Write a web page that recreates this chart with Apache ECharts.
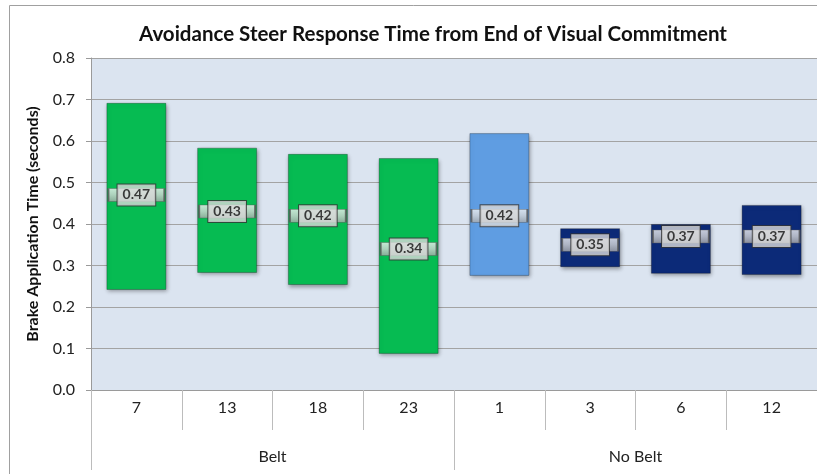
<!DOCTYPE html>
<html>
<head>
<meta charset="utf-8">
<script src="https://cdn.jsdelivr.net/npm/echarts@6/dist/echarts.min.js"></script>
<style>
    *{ margin:0; padding:0; }
    body{ background:#fff; }
    #chart{ width:817px; height:474px; }
</style>
</head>
<body>
<div id="chart"></div>
<script type="text/javascript">
    // subjects and groups
    var subjects = ['7', '13', '18', '23', '1', '3', '6', '12'];
    var groups = ['Belt', 'No Belt'];
    // range of each bar (min / max) and median marker
    var lows = [0.241, 0.282, 0.253, 0.087, 0.275, 0.296, 0.280, 0.277];
    var highs = [0.692, 0.584, 0.569, 0.559, 0.619, 0.390, 0.400, 0.446];
    var medians = [0.47, 0.43, 0.42, 0.34, 0.42, 0.35, 0.37, 0.37];
    var barColors = ['#06bb52', '#06bb52', '#06bb52', '#06bb52', '#5f9de2', '#0c2a78', '#0c2a78', '#0c2a78'];
    var yTicks = [0, 0.1, 0.2, 0.3, 0.4, 0.5, 0.6, 0.7, 0.8];

    var font = 'Lato, "Open Sans", sans-serif';
    var chart = echarts.init(document.getElementById('chart'));

    var rangeData = subjects.map(function (s, i) {
        return {
            value: +(highs[i] - lows[i]).toFixed(3),
            itemStyle: {color: barColors[i]}
        };
    });

    var option = {
        animation: false,
        title: {
            text: 'Avoidance Steer Response Time from End of Visual Commitment',
            left: 428,
            top: 19,
            textAlign: 'center',
            textStyle: {fontFamily: font, fontSize: 20.5, fontWeight: 'bold', color: '#111'}
        },
        graphic: [{
            type: 'rect',
            shape: {x: 9.5, y: 5.5, width: 900, height: 600},
            style: {fill: 'none', stroke: '#a0a0a0', lineWidth: 1},
            z: -10
        }],
        grid: {
            left: 91, top: 58, right: 0, bottom: 84,
            show: true,
            backgroundColor: '#dbe4f0',
            borderWidth: 0
        },
        xAxis: [{
            type: 'category',
            data: subjects,
            axisLine: {lineStyle: {color: '#9a9a9a'}},
            axisTick: {show: true, interval: 0, length: 40, lineStyle: {color: '#bcbcbc'}},
            axisLabel: {margin: 10, fontFamily: font, fontSize: 16, color: '#222'}
        }, {
            type: 'category',
            data: groups,
            position: 'bottom',
            axisLine: {show: false},
            axisTick: {show: true, interval: 0, length: 80, lineStyle: {color: '#bcbcbc'}},
            axisLabel: {margin: 59, fontFamily: font, fontSize: 16, color: '#222'}
        }],
        yAxis: {
            type: 'value',
            min: yTicks[0], max: yTicks[yTicks.length - 1], interval: 0.1,
            name: 'Brake Application Time (seconds)',
            nameLocation: 'middle',
            nameGap: 50,
            nameTextStyle: {fontFamily: font, fontSize: 16, fontWeight: 'bold', color: '#111'},
            axisLine: {show: true, lineStyle: {color: '#9a9a9a'}},
            axisTick: {show: true, length: 5, lineStyle: {color: '#9a9a9a'}},
            splitLine: {lineStyle: {color: '#a3a3a3'}},
            axisLabel: {
                margin: 16, fontFamily: font, fontSize: 16, color: '#222',
                formatter: function (v) { return v.toFixed(1); }
            }
        },
        series: [{
            name: 'base',
            type: 'bar',
            stack: 'r',
            data: lows,
            barWidth: 60,
            itemStyle: {color: 'transparent'},
            silent: true
        }, {
            name: 'range',
            type: 'bar',
            stack: 'r',
            data: rangeData,
            barWidth: 60,
            itemStyle: {
                borderColor: 'rgba(0,0,0,0.25)',
                borderWidth: 1,
                shadowBlur: 4,
                shadowColor: 'rgba(0,0,0,0.35)',
                shadowOffsetX: 1,
                shadowOffsetY: 2
            }
        }, {
            name: 'median',
            type: 'scatter',
            data: medians,
            symbol: 'rect',
            symbolSize: [56, 13],
            z: 5,
            itemStyle: {
                color: new echarts.graphic.LinearGradient(0, 0, 0, 1, [
                    {offset: 0, color: '#f4f4f4'},
                    {offset: 0.5, color: '#d6d6d6'},
                    {offset: 1, color: '#a8a8a8'}
                ]),
                borderColor: '#555',
                borderWidth: 1
            },
            label: {
                show: true,
                position: 'inside',
                formatter: function (p) { return p.value.toFixed(2); },
                fontFamily: font,
                fontSize: 14,
                fontWeight: 'bold',
                color: '#111',
                backgroundColor: '#d9d9d9',
                borderColor: '#333',
                borderWidth: 1,
                padding: [4, 5, 3, 5]
            }
        }]
    };
    chart.setOption(option);
</script>
</body>
</html>
